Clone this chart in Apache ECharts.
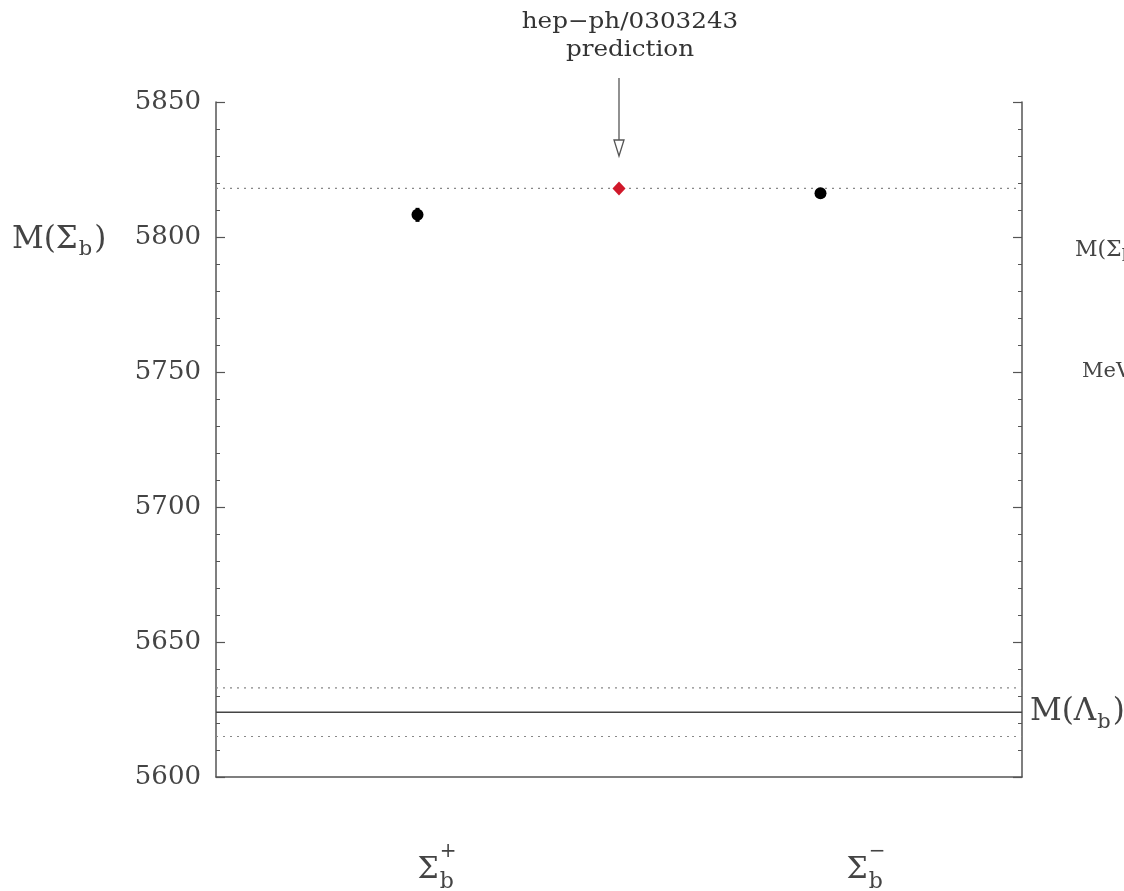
<!DOCTYPE html>
<html><head><meta charset="utf-8">
<script src="https://cdn.jsdelivr.net/npm/echarts@6/dist/echarts.min.js"></script>
<style>html,body{margin:0;padding:0;background:#fff}#c{width:1124px;height:891px}</style>
</head><body><div id="c"></div>
<script>
// ---- data ----
const categories = ['Σb+', 'prediction', 'Σb-'];
const categoryX = [1, 2, 3];
const measuredX = [1, 3];
const measuredMass = [5808.2, 5816.2];
const measuredErr = [2.6, 1.5];
const predictionX = [2];
const predictionMass = [5818.0];
const lambdaMass = 5624.0;
const lambdaErr = 9.0;
const yTicks = [5600, 5650, 5700, 5750, 5800, 5850];
const yMin = 5600, yMax = 5850, yStep = 50;
const xMin = 0, xMax = 4;

const serif = '"DejaVu Serif", "Liberation Serif", serif';
const axisCol = '#555';
const textCol = '#444';

const chart = echarts.init(document.getElementById('c'), null, {renderer: 'canvas'});

function hline(y, type, width) {
  return {
    type: 'line', xAxisIndex: 0, yAxisIndex: 0, silent: true, symbol: 'none',
    data: [[xMin, y], [xMax, y]],
    lineStyle: {color: type === 'solid' ? '#444' : '#888', width: width, type: type === 'solid' ? 'solid' : [2, 5]},
    z: 1
  };
}

const yAxisCommon = {
  type: 'value', min: yMin, max: yMax, interval: yStep,
  axisLine: {show: true, onZero: false, lineStyle: {color: axisCol, width: 1.5}},
  axisTick: {show: true, inside: true, length: 9, lineStyle: {color: axisCol, width: 1.2}},
  minorTick: {show: true, splitNumber: 5, length: 4, lineStyle: {color: axisCol, width: 1}},
  splitLine: {show: false}, minorSplitLine: {show: false}
};

const option = {
  animation: false,
  backgroundColor: '#fff',
  grid: {left: 216, right: 102, top: 102, bottom: 114, containLabel: false},
  xAxis: {
    type: 'value', min: xMin, max: xMax,
    axisLine: {show: true, onZero: false, lineStyle: {color: axisCol, width: 1.5}},
    axisTick: {show: false}, axisLabel: {show: false}, splitLine: {show: false}
  },
  yAxis: [
    Object.assign({}, yAxisCommon, {
      position: 'left',
      axisLabel: {show: true, margin: 15, color: textCol, fontSize: 26, fontFamily: serif,
        formatter: v => yTicks.includes(v) ? String(v) : ''}
    }),
    Object.assign({}, yAxisCommon, {position: 'right', axisLabel: {show: false}})
  ],
  series: [
    hline(predictionMass[0], 'dotted', 1.2),
    hline(lambdaMass + lambdaErr, 'dotted', 1.2),
    hline(lambdaMass - lambdaErr, 'dotted', 1.2),
    hline(lambdaMass, 'solid', 1.5),
    {
      type: 'custom', xAxisIndex: 0, yAxisIndex: 0, z: 3,
      data: measuredX.map((x, i) => [x, measuredMass[i], measuredErr[i]]),
      renderItem: function (params, api) {
        const x = api.value(0), y = api.value(1), e = api.value(2);
        const p1 = api.coord([x, y + e]);
        const p2 = api.coord([x, y - e]);
        return {type: 'line', shape: {x1: p1[0], y1: p1[1], x2: p2[0], y2: p2[1]},
          style: {stroke: '#000', lineWidth: 4}};
      }
    },
    {
      type: 'scatter', xAxisIndex: 0, yAxisIndex: 0, z: 4,
      data: measuredX.map((x, i) => [x, measuredMass[i]]),
      symbol: 'circle', symbolSize: 12,
      itemStyle: {color: '#000', opacity: 1}
    },
    {
      type: 'scatter', xAxisIndex: 0, yAxisIndex: 0, z: 4,
      data: predictionX.map((x, i) => [x, predictionMass[i]]),
      symbol: 'diamond', symbolSize: [13, 14],
      itemStyle: {color: '#d0182a', opacity: 1}
    }
  ]
};
chart.setOption(option);

// text measuring for sub/superscript placement
const mctx = document.createElement('canvas').getContext('2d');
function tw(text, size) { mctx.font = size + 'px ' + serif; return mctx.measureText(text).width; }

function formula(x, y, pieces, size) {
  const children = [];
  let cx = 0;
  pieces.forEach(p => {
    const s = p.size || size;
    children.push({type: 'text', style: {text: p.t, x: cx + (p.dx || 0), y: p.dy || 0, fontSize: s, fontFamily: serif, fill: textCol, verticalAlign: 'middle'}});
    if (!p.noAdvance) cx += tw(p.t, s) + (p.dx || 0);
  });
  return {type: 'group', x: x, y: y, children: children};
}

const px = (x, y) => chart.convertToPixel({gridIndex: 0}, [x, y]);
const pred = px(predictionX[0], predictionMass[0]);
const ax = pred[0];
const tipY = px(predictionX[0], 5830)[1];
const plus = px(categoryX[0], yMin);
const minus = px(categoryX[2], yMin);
const yLab = px(xMin, 5799)[1];
const lamY = px(xMax, lambdaMass)[1];
const rightX = px(xMax, yMin)[0];

function sigmaLabel(leftX, sign) {
  return formula(leftX, 870, [
    {t: 'Σ', size: 30},
    {t: sign, size: 20, dy: -18, dx: 1, noAdvance: true},
    {t: 'b', size: 22, dy: 12, dx: 1}
  ], 30);
}

chart.setOption({
  graphic: [
    {type: 'text', x: ax + 11, y: 22, scaleX: 1.12, style: {text: 'hep−ph/0303243', x: 0, y: 0, fontSize: 22, fontFamily: serif, fill: '#333', align: 'center', verticalAlign: 'middle'}},
    {type: 'text', x: ax + 11, y: 50, scaleX: 1.12, style: {text: 'prediction', x: 0, y: 0, fontSize: 22, fontFamily: serif, fill: '#333', align: 'center', verticalAlign: 'middle'}},
    {type: 'line', shape: {x1: ax, y1: 78, x2: ax, y2: tipY - 16}, style: {stroke: '#555', lineWidth: 1.3}},
    {type: 'polygon', shape: {points: [[ax - 5, tipY - 16], [ax + 5, tipY - 16], [ax, tipY]]}, style: {stroke: '#555', fill: '#fff', lineWidth: 1.3}},
    formula(12, yLab, [{t: 'M(Σ'}, {t: 'b', size: 21, dy: 10, dx: 1}, {t: ')', dx: 2}], 31),
    formula(1075, px(xMax, 5795)[1], [{t: 'M(Σ'}, {t: 'b', size: 16, dy: 6}, {t: ')'}], 22),
    {type: 'text', style: {text: 'MeV', x: 1082, y: px(xMax, 5750)[1], fontSize: 21, fontFamily: serif, fill: textCol, verticalAlign: 'middle'}},
    formula(rightX + 8, lamY, [{t: 'M(Λ'}, {t: 'b', size: 21, dy: 10, dx: 1}, {t: ')', dx: 2}], 31),
    sigmaLabel(plus[0], '+'),
    sigmaLabel(minus[0] + 26, '−')
  ]
});
</script></body></html>
